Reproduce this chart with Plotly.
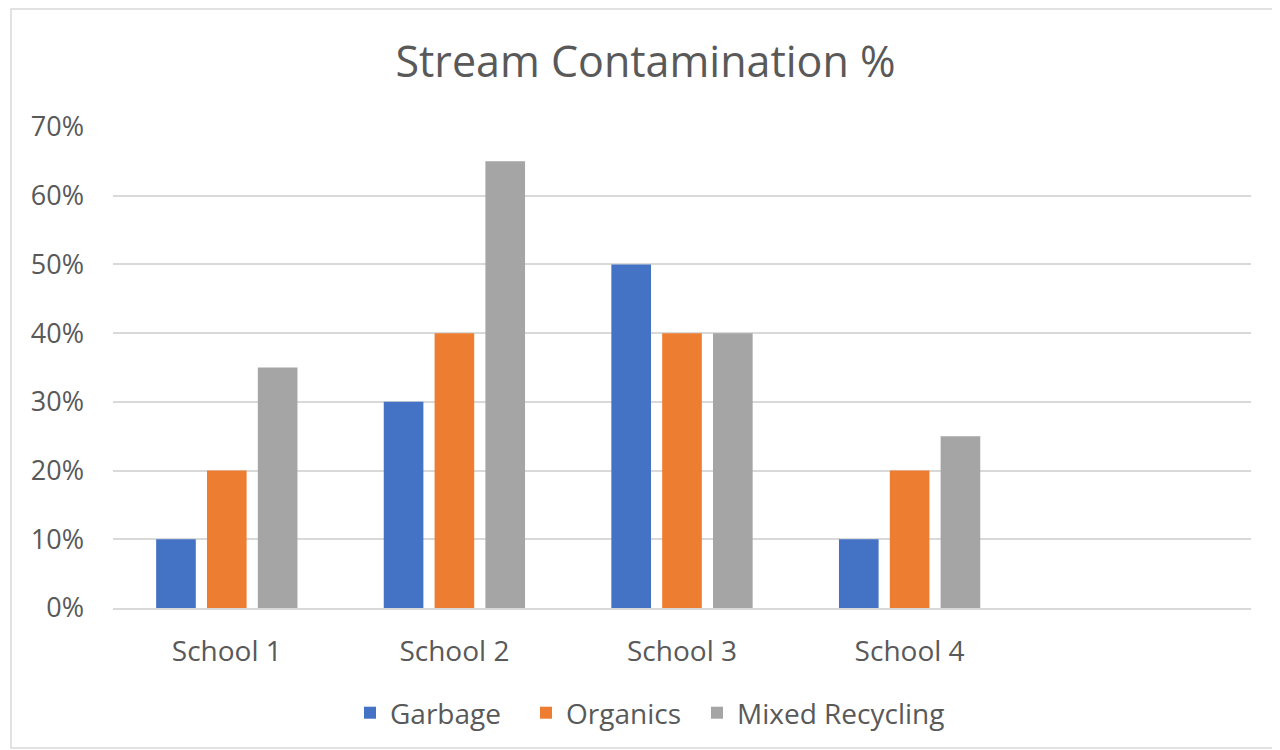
import plotly.graph_objects as go

schools = ["School 1", "School 2", "School 3", "School 4"]
garbage = [0.10, 0.30, 0.50, 0.10]
organics = [0.20, 0.40, 0.40, 0.20]
mixed = [0.35, 0.65, 0.40, 0.25]
y_ticks = [0, 0.1, 0.2, 0.3, 0.4, 0.5, 0.6, 0.7]

FONT = "Open Sans"
TXT = "#595959"
OFF = 8  # page body margin
W, H = 1280 - OFF, 750 - OFF

fig = go.Figure()
series = [("Garbage", garbage, "#4472C4", "legend", 350),
          ("Organics", organics, "#ED7D31", "legend2", 526),
          ("Mixed Recycling", mixed, "#A5A5A5", "legend3", 697)]
for name, vals, col, lg, _ in series:
    fig.add_trace(go.Bar(x=schools, y=vals, name=name, marker_color=col,
                         marker_line_width=0, legend=lg, showlegend=True))

legend_common = dict(orientation="h", xref="container", xanchor="left",
                     y=1 - (713 - OFF) / H, yref="container", yanchor="middle",
                     font=dict(size=28, color=TXT, family=FONT),
                     bgcolor="rgba(0,0,0,0)", visible=True)
legends = {}
for name, vals, col, lg, px in series:
    legends[lg] = dict(legend_common, x=(px - OFF) / W)

fig.update_layout(
    width=W, height=H, showlegend=True,
    paper_bgcolor="white", plot_bgcolor="white",
    margin=dict(l=113 - OFF, r=29, t=127 - OFF, b=142),
    barmode="group", bargap=0.33, bargroupgap=0.22,
    font=dict(family=FONT, color=TXT, size=28),
    title=dict(text="Stream Contamination %", x=(645.5 - OFF) / W, xref="container",
               xanchor="center", y=1 - (62 - OFF) / H, yref="container", yanchor="middle",
               font=dict(size=43, color=TXT, family=FONT)),
    xaxis=dict(type="category", categoryorder="array", categoryarray=schools + ["  "],
               range=[-0.5, 4.5], showgrid=False, showline=True,
               linecolor="#D9D9D9", linewidth=2, ticks="", ticklabelstandoff=17,
               tickfont=dict(size=28, color=TXT)),
    yaxis=dict(range=[0, 0.7], tickvals=y_ticks, tickformat=".0%",
               showgrid=True, gridcolor="#D9D9D9", gridwidth=1.5,
               zeroline=False, showline=False, ticks="", ticklabelstandoff=28,
               tickfont=dict(size=27, color=TXT)),
    shapes=[dict(type="rect", xref="paper", yref="paper",
                 x0=(11 - 113) / 1138, x1=(1278 - 113) / 1138,
                 y0=-(748 - 608) / 481, y1=1 + (127 - 9) / 481,
                 line=dict(color="#D9D9D9", width=1.5), fillcolor="rgba(0,0,0,0)",
                 layer="below")],
    **legends,
)

fig.write_html("out.html")
